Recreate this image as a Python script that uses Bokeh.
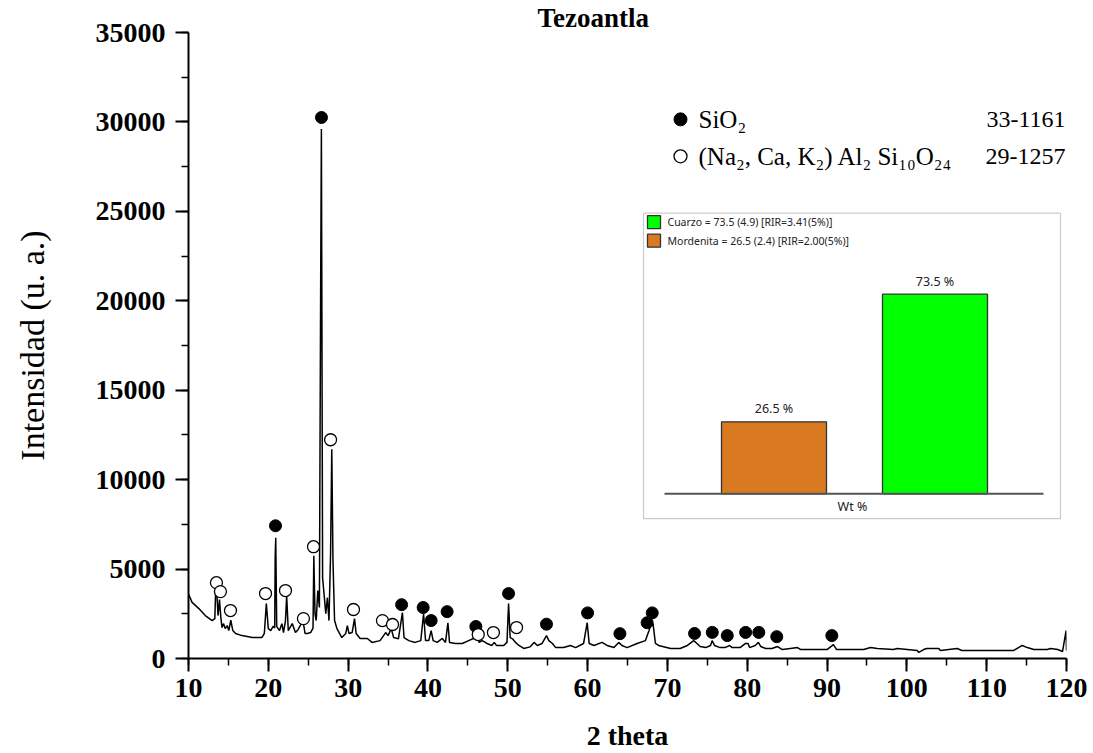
from bokeh.plotting import figure
from bokeh.models import Range1d, SingleIntervalTicker, Label, BoxAnnotation
from bokeh.embed import file_html
from bokeh.resources import INLINE

# ---------------- data ----------------
two_theta = [10.0, 10.45, 11.3, 12.1, 12.97, 13.3, 13.4, 13.55, 13.7, 13.88, 14.05, 14.2, 14.4, 14.6,
             14.85, 15.05, 15.3, 15.55, 15.9, 16.7, 18.0, 19.2, 19.5, 19.75, 20.0, 20.3, 20.6, 20.8,
             20.86, 20.93, 21.05, 21.4, 21.7, 21.9, 22.15, 22.3, 22.5, 23.0, 23.4, 23.7, 24.0, 24.35,
             24.6, 24.9, 25.3, 25.6, 25.7, 25.85, 26.0, 26.2, 26.4, 26.55, 26.65, 26.8, 27.2, 27.4,
             27.6, 27.8, 27.95, 28.1, 28.3, 28.6, 29.2, 29.7, 29.9, 30.1, 30.5, 30.8, 31.0, 31.5,
             32.4, 33.0, 34.0, 34.7, 35.0, 35.4, 35.7, 36.3, 36.8, 37.0, 37.6, 38.4, 39.1, 39.45,
             39.7, 40.1, 40.4, 40.65, 41.15, 41.8, 42.2, 42.5, 42.7, 43.45, 44.3, 45.1, 45.7, 46.1,
             46.4, 46.8, 47.4, 48.0, 48.3, 48.6, 49.5, 49.9, 50.1, 50.3, 50.6, 50.97, 51.4, 52.0,
             52.8, 53.3, 53.7, 54.3, 54.85, 55.15, 55.6, 56.0, 57.0, 57.85, 58.5, 59.5, 59.95, 60.2,
             60.8, 61.8, 62.45, 63.3, 63.9, 64.3, 64.95, 66.2, 67.25, 67.7, 67.9, 68.2, 68.5, 68.9,
             70.4, 71.6, 72.5, 73.3, 73.7, 74.1, 74.8, 75.4, 75.6, 75.9, 76.6, 77.2, 77.8, 78.1,
             79.1, 79.8, 80.1, 80.3, 81.0, 81.4, 81.7, 82.3, 83.1, 83.8, 84.4, 85.4, 86.3, 86.7,
             90.0, 90.8, 91.2, 92.5, 94.6, 95.45, 96.3, 98.3, 98.8, 101.3, 101.5, 102.1, 102.5, 104.0,
             104.2, 106.3, 106.9, 113.4, 114.45, 115.1, 115.9, 117.6, 118.0, 118.9, 119.5, 119.95, 120.0]
intensity = [3600, 3140, 2790, 2400, 2120, 2230, 3800, 3650, 2400, 3300, 2300, 1730, 1950, 1670,
             1840, 1560, 2150, 1560, 1400, 1280, 1170, 1170, 1400, 3070, 1670, 1560, 1800, 1700,
             5640, 6750, 1800, 1560, 1950, 1450, 2120, 3500, 1560, 1950, 1450, 1600, 1840, 2100,
             1400, 1400, 1450, 1700, 5750, 2500, 2120, 3800, 2850, 20000, 29600, 4520, 2500, 3400,
             2120, 5860, 11700, 5470, 2120, 1670, 1170, 1400, 1840, 1400, 1450, 2230, 1400, 1120,
             1120, 900, 1000, 1450, 1280, 1670, 1170, 1100, 2570, 1170, 1000, 900, 1000, 2500,
             1000, 1000, 1560, 1000, 900, 1120, 900, 2000, 900, 840, 840, 1000, 1120, 1450,
             900, 1000, 840, 730, 900, 730, 730, 900, 3070, 1170, 1100, 900, 730, 560,
             650, 900, 730, 840, 1280, 1000, 840, 610, 610, 730, 610, 840, 2000, 840,
             730, 900, 730, 610, 900, 730, 610, 840, 1000, 1560, 1840, 1950, 840, 730,
             560, 560, 730, 1000, 840, 670, 610, 730, 1000, 730, 610, 610, 730, 610,
             610, 840, 840, 610, 730, 900, 670, 560, 560, 670, 500, 560, 610, 500,
             500, 780, 500, 500, 500, 610, 560, 500, 560, 450, 340, 500, 560, 560,
             450, 560, 450, 450, 730, 610, 500, 500, 560, 500, 390, 1560, 450]

sio2_x = [20.9, 26.66, 36.7, 39.4, 40.4, 42.4, 46.0, 50.1, 54.85, 60.0, 64.05, 67.46, 68.1,
          73.4, 75.62, 77.5, 79.8, 81.45, 83.7, 90.6]
sio2_y = [7420, 30250, 3010, 2850, 2120, 2620, 1790, 3630, 1920, 2550, 1390, 2000, 2550,
          1400, 1460, 1280, 1460, 1460, 1220, 1280]
mord_x = [13.5, 14.0, 15.26, 19.65, 22.15, 24.4, 25.66, 27.8, 30.67, 34.3, 35.56, 46.3, 48.2, 51.1]
mord_y = [4240, 3740, 2680, 3630, 3800, 2230, 6250, 12230, 2740, 2120, 1900, 1340, 1450, 1730]

legend_phases = ["SiO\u2082", "(Na\u2082, Ca, K\u2082) Al\u2082 Si\u2081\u2080O\u2082\u2084"]
legend_cards = ["33-1161", "29-1257"]

phase_names = ["Mordenita", "Cuarzo"]
wt_pct = [26.5, 73.5]
wt_err = [2.4, 4.9]
rir_txt = ["2.00(5%)", "3.41(5%)"]
bar_colors = ["#D97A22", "#00FF00"]

# ---------------- layout constants ----------------
W, H = 1093, 753
FL, FR, FT, FB = 188, 1066, 31, 658   # frame edges = pixel positions of 10, 120, 35000 and 0
X0, X1, Y0, Y1 = 10, 120, 0, 35000


def xd(px):
    return X0 + (px - FL) * (X1 - X0) / (FR - FL)


def yd(py):
    return Y0 + (FB - py) * (Y1 - Y0) / (FB - FT)


# inset coordinate system (bar index / wt %)
IC0, IU = 773.5, 161.0      # px of bar 0 centre, px per bar slot
IB, IS = 493.0, 2.72        # px of baseline, px per 1 wt%


def ixd(px):
    return (px - IC0) / IU


def iyd(py):
    return (IB - py) / IS


SERIF = "Liberation Serif"

p = figure(width=W, height=H, x_range=Range1d(X0, X1), y_range=Range1d(Y0, Y1),
           output_backend="svg", toolbar_location=None,
           min_border_left=FL, min_border_right=W - FR, min_border_top=FT, min_border_bottom=H - FB)
p.extra_x_ranges = {"ix": Range1d(ixd(FL), ixd(FR))}
p.extra_y_ranges = {"iy": Range1d(iyd(FB), iyd(FT))}

p.title.text = "Tezoantla"
p.title.align = "left"
p.title.offset = 537 - FL
p.title.standoff = 0
p.title.text_font = SERIF
p.title.text_font_style = "bold"
p.title.text_font_size = "27px"
p.title.text_color = "black"

p.xgrid.visible = False
p.ygrid.visible = False
p.outline_line_color = None
p.background_fill_color = "white"
p.border_fill_color = "white"

p.xaxis.ticker = SingleIntervalTicker(interval=10, num_minor_ticks=2)
p.yaxis.ticker = SingleIntervalTicker(interval=5000, num_minor_ticks=2)
for ax in (p.xaxis[0], p.yaxis[0]):
    ax.axis_line_width = 2
    ax.axis_line_color = "black"
    ax.major_tick_line_width = 2
    ax.minor_tick_line_width = 1.5
    ax.major_tick_line_color = "black"
    ax.minor_tick_line_color = "black"
    ax.major_tick_out = 13
    ax.major_tick_in = 0
    ax.minor_tick_out = 7
    ax.minor_tick_in = 0
    ax.major_label_text_font = SERIF
    ax.major_label_text_font_style = "bold"
    ax.major_label_text_font_size = "28px"
    ax.major_label_text_color = "black"
p.xaxis.major_label_standoff = 7
p.yaxis.major_label_standoff = 10
p.yaxis.axis_label = "Intensidad (u. a.)"
p.yaxis.axis_label_text_font = SERIF
p.yaxis.axis_label_text_font_style = "normal"
p.yaxis.axis_label_text_font_size = "34px"
p.yaxis.axis_label_text_color = "black"
p.yaxis.axis_label_standoff = 42
p.xaxis.axis_label = "2 theta"
p.xaxis.axis_label_text_font = SERIF
p.xaxis.axis_label_text_font_style = "bold"
p.xaxis.axis_label_text_font_size = "28px"
p.xaxis.axis_label_text_color = "black"
p.xaxis.axis_label_standoff = 20

# inset frame (drawn below glyphs)
p.add_layout(BoxAnnotation(left=ixd(643), right=ixd(1060), top=iyd(212), bottom=iyd(518),
                           x_range_name="ix", y_range_name="iy", fill_color="white", fill_alpha=1.0,
                           line_color="#555555", line_width=1.2, level="underlay"))

# diffraction pattern
p.line(two_theta, intensity, line_color="black", line_width=1.5)
p.scatter(sio2_x, sio2_y, marker="circle", size=12, fill_color="black", line_color="black")
p.scatter(mord_x, mord_y, marker="circle", size=12, fill_color="white", line_color="black",
          line_width=1.3)

# phase legend (top right)
leg_y = [yd(118), yd(155)]
p.scatter([xd(680)], [leg_y[0]], marker="circle", size=13, fill_color="black", line_color="black")
p.scatter([xd(680)], [leg_y[1]], marker="circle", size=13, fill_color="white", line_color="black",
          line_width=1.3)
for i in range(2):
    p.add_layout(Label(x=xd(698), y=leg_y[i], text=legend_phases[i], text_font=SERIF,
                       text_font_size="25px", text_baseline="middle", text_align="left",
                       text_color="black"))
    p.add_layout(Label(x=xd(1065), y=leg_y[i], text=legend_cards[i], text_font=SERIF,
                       text_font_size="24px", text_baseline="middle", text_align="right",
                       text_color="black"))

# inset bar chart
idx = list(range(len(wt_pct)))
p.vbar(x=idx, top=wt_pct, bottom=0, width=105 / IU, fill_color=bar_colors, line_color="#333333",
       line_width=1.3, x_range_name="ix", y_range_name="iy")
p.line([ixd(664), ixd(1043)], [0, 0], line_color="#555555", line_width=2.2,
       x_range_name="ix", y_range_name="iy")
for i in idx:
    p.add_layout(Label(x=i, y=wt_pct[i], y_offset=13, text=f"{wt_pct[i]} %", text_font="Noto Sans",
                       text_font_size="12.5px", text_baseline="middle", text_align="center",
                       text_color="#222222", x_range_name="ix", y_range_name="iy"))
p.add_layout(Label(x=ixd(852), y=iyd(506), text="Wt %", text_font="Noto Sans",
                   text_font_size="12.5px", text_baseline="middle", text_align="center",
                   text_color="#222222", x_range_name="ix", y_range_name="iy"))

# inset legend (Cuarzo first, then Mordenita)
order = [1, 0]
sq_y = [iyd(221), iyd(239.5)]
p.scatter([ixd(653.5)] * 2, sq_y, marker="square", size=13,
          fill_color=[bar_colors[k] for k in order], line_color="#333333", line_width=1.3,
          x_range_name="ix", y_range_name="iy")
for j, k in enumerate(order):
    txt = f"{phase_names[k]} = {wt_pct[k]} ({wt_err[k]}) [RIR={rir_txt[k]}]"
    p.add_layout(Label(x=ixd(667), y=sq_y[j], text=txt, text_font="Noto Sans",
                       text_font_size="10.5px", text_baseline="middle", text_align="left",
                       text_color="#222222", x_range_name="ix", y_range_name="iy"))

open("out.html", "w").write(file_html(p, INLINE))
